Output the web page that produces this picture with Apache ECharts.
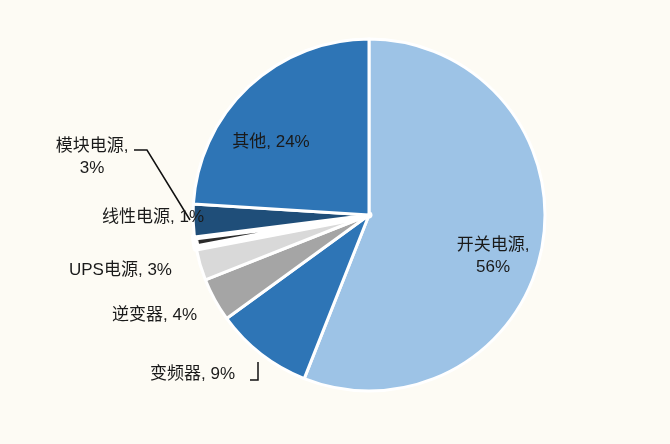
<!DOCTYPE html>
<html>
<head>
<meta charset="utf-8">
<script src="https://cdn.jsdelivr.net/npm/echarts@6/dist/echarts.min.js"></script>
<style>
  html, body { margin: 0; padding: 0; background: #fdfbf4; }
  #chart { width: 670px; height: 444px; }
</style>
</head>
<body>
<div id="chart"></div>
<script>
// 各类电源产品占比 (%)
const categories = ["开关电源", "变频器", "逆变器", "UPS电源", "线性电源", "模块电源", "其他"];
const shares = [56, 9, 4, 3, 1, 3, 24];
const colors = ["#9dc3e6", "#2e75b6", "#a5a5a5", "#d9d9d9", "#2b2b2b", "#1f4e79", "#2e75b6"];

// label placement for each slice, same order as categories
const labelSpots = [
  { x: 493, y: 256, align: "center", wrap: true },
  { x: 150, y: 374, align: "left", line: [[250, 380], [258, 380], [258, 362]] },
  { x: 112, y: 315, align: "left" },
  { x: 69, y: 270, align: "left" },
  { x: 102, y: 217, align: "left" },
  { x: 92, y: 157, align: "center", wrap: true, line: [[134, 150], [147, 150], [190, 220]] },
  { x: 271, y: 142, align: "center" }
];

function buildData() {
  let data = [];
  for (let i = 0; i < categories.length; i++) {
    let spot = labelSpots[i];
    data.push({
      name: categories[i],
      value: shares[i],
      itemStyle: {
        color: colors[i],
        borderWidth: categories[i] === "线性电源" ? 7 : 3
      },
      label: {
        formatter: spot.wrap ? "{b},\n{c}%" : "{b}, {c}%",
        align: spot.align
      },
      labelLine: { show: !!spot.line }
    });
  }
  return data;
}

var dom = document.getElementById("chart");
var myChart = echarts.init(dom, null, { renderer: "canvas" });

var option = {
  backgroundColor: "#fdfbf4",
  animation: false,
  series: [
    {
      type: "pie",
      center: [369, 215],
      radius: 176,
      startAngle: 90,
      clockwise: true,
      avoidLabelOverlap: false,
      itemStyle: { borderColor: "#ffffff", borderWidth: 3 },
      label: {
        show: true,
        position: "outside",
        color: "#1a1a1a",
        fontSize: 17,
        lineHeight: 22,
        fontFamily: "Liberation Sans, Noto Sans CJK SC, sans-serif"
      },
      labelLine: {
        show: false,
        lineStyle: { color: "#111111", width: 1.5 }
      },
      labelLayout: function (params) {
        let spot = labelSpots[params.dataIndex];
        let out = {
          x: spot.x,
          y: spot.y,
          align: spot.align,
          verticalAlign: "middle"
        };
        if (spot.line) {
          out.labelLinePoints = spot.line;
        }
        return out;
      },
      data: buildData()
    }
  ]
};

if (option && typeof option === "object") {
  myChart.setOption(option);
}

window.addEventListener("resize", myChart.resize);
</script>
</body>
</html>
